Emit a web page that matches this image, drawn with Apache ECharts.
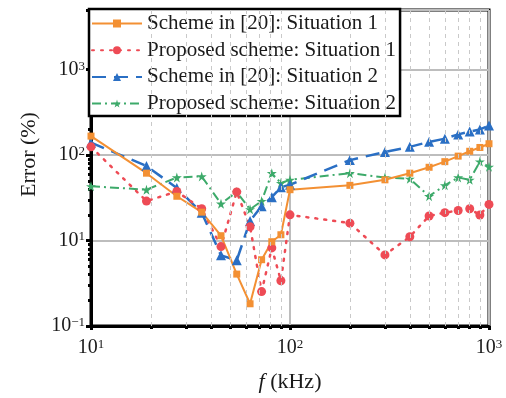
<!DOCTYPE html>
<html>
<head>
<meta charset="utf-8">
<script src="https://cdn.jsdelivr.net/npm/echarts@6/dist/echarts.min.js"></script>
<style>
html,body{margin:0;padding:0;background:#fff;}
#c{width:506px;height:398px;}
</style>
</head>
<body>
<div id="c"></div>
<script>
// ---- data ----
const freq = [10, 19, 27, 36, 45, 54, 63, 72, 81, 90, 100, 200, 300, 400, 500, 600, 700, 800, 900, 1000];
const schemeS1 = [167, 61.5, 33, 21.5, 11.4, 4.05, 1.82, 5.97, 9.7, 11.7, 39.4, 44.3, 51.4, 61.5, 72.1, 83.9, 97.4, 111, 123, 136];
const proposedS1 = [125, 29, 37.5, 23.6, 8.5, 37.1, 14.5, 2.53, 8.2, 3.39, 20, 16, 6.8, 11.1, 19.4, 21.2, 22.5, 23.6, 19.9, 26.5];
const schemeS2 = [140, 74.7, 41.2, 21.2, 6.71, 5.87, 17, 25.3, 32.2, 42.1, 45, 87.5, 109, 125, 143, 156, 175, 189, 200, 222];
const proposedS2 = [43.2, 39.4, 54.8, 56.4, 27, 37, 23.2, 29, 61.5, 47.1, 51.4, 61.5, 54.8, 52.8, 33.1, 44.3, 54.8, 51.4, 84, 73];
const seriesNames = ['Scheme in [20]: Situation 1', 'Proposed scheme: Situation 1', 'Scheme in [20]: Situation 2', 'Proposed scheme: Situation 2'];
const xTickValues = [10, 100, 1000];
const xTickExp = ['1', '2', '3'];
const yTickValues = [1, 10, 100, 1000];
const yTickExp = ['\u22121', '1', '2', '3'];
const xMinor = [20, 30, 40, 50, 60, 70, 80, 90, 200, 300, 400, 500, 600, 700, 800, 900];
const yMinor = [2,3,4,5,6,7,8,9,20,30,40,50,60,70,80,90,200,300,400,500,600,700,800,900,2000,3000,4000,5000];

const FONT = 'Liberation Serif';
const TXT = '#1a1a1a';
const STAR = 'path://M50,0 L61,35 L98,35 L68,57 L79,91 L50,70 L21,91 L32,57 L2,35 L39,35 Z';

function pairs(ys){ return freq.map((f,i)=>[f, ys[i]]); }
function labelFor(vals, exps){
  return function(v){
    for (let i=0;i<vals.length;i++){
      if (Math.abs(Math.log10(v) - Math.log10(vals[i])) < 1e-6) return '{b|10}{s|' + exps[i] + '}';
    }
    return '';
  };
}
const rich = {
  b: {fontFamily: FONT, fontSize: 20, color: TXT},
  s: {fontFamily: FONT, fontSize: 13, color: TXT, verticalAlign: 'top'}
};

const chart = echarts.init(document.getElementById('c'), null, {renderer: 'canvas'});
chart.setOption({
  animation: false,
  backgroundColor: '#fff',
  grid: {left: 91, right: 17, top: 10, bottom: 67, show: true, borderColor: '#000', borderWidth: 3, backgroundColor: 'transparent'},
  xAxis: [{
    type: 'log', logBase: 10, min: 10, max: 1000,
    name: '{i|f} (kHz)', nameLocation: 'middle', nameGap: 45,
    nameTextStyle: {fontFamily: FONT, fontSize: 22, color: TXT, rich: {i: {fontFamily: FONT, fontSize: 22, fontStyle: 'italic', color: TXT}}},
    axisLine: {show: true, lineStyle: {color: '#000', width: 3}},
    axisTick: {show: true, inside: false, length: 4, lineStyle: {color: '#000', width: 3}},
    axisLabel: {margin: 12, formatter: labelFor(xTickValues, xTickExp), rich: rich},
    splitLine: {show: true, lineStyle: {color: '#bdbdbd', width: 2}},
    minorTick: {show: false}
  }, {
    type: 'log', logBase: 10, min: 10, max: 1000, position: 'bottom',
    axisLine: {show: false},
    axisTick: {show: true, inside: false, length: 3, customValues: xMinor, lineStyle: {color: '#000', width: 3}},
    axisLabel: {show: false},
    splitLine: {show: false}
  }],
  yAxis: [{
    type: 'log', logBase: 10, min: 1, max: 5000,
    name: 'Error (%)', nameLocation: 'middle', nameGap: 51,
    nameTextStyle: {fontFamily: FONT, fontSize: 22, color: TXT, padding: [0, 0, 0, 27]},
    axisLine: {show: true, lineStyle: {color: '#000', width: 3}},
    axisTick: {show: true, inside: false, length: 5, lineStyle: {color: '#000', width: 3}},
    axisLabel: {margin: 6, formatter: labelFor(yTickValues, yTickExp), rich: rich},
    splitLine: {show: true, lineStyle: {color: '#bdbdbd', width: 2}}
  }, {
    type: 'log', logBase: 10, min: 1, max: 5000, position: 'left',
    axisLine: {show: false},
    axisTick: {show: true, inside: false, length: 3, customValues: yMinor, lineStyle: {color: '#000', width: 3}},
    axisLabel: {show: false},
    splitLine: {show: false}
  }],
  legend: {
    data: seriesNames,
    orient: 'vertical', left: 89, top: 9,
    padding: [4, 4, 2, 2],
    itemWidth: 50, itemHeight: 10, itemGap: 5.7,
    backgroundColor: '#fff', borderColor: '#000', borderWidth: 2.5,
    textStyle: {fontFamily: FONT, fontSize: 21, color: TXT}
  },
  series: [
    {
      name: 'minor-grid', type: 'line', data: [], silent: true, z: 1,
      markLine: {
        silent: true, symbol: 'none', animation: false,
        label: {show: false},
        lineStyle: {type: [4, 4], color: '#c9c9c9', width: 1},
        data: xMinor.map(v => ({xAxis: v}))
      }
    },
    {
      name: seriesNames[3], type: 'line', data: pairs(proposedS2),
      symbol: STAR, symbolSize: 10,
      itemStyle: {color: '#3daa6a'},
      lineStyle: {color: '#3daa6a', width: 2, type: [9, 4, 2, 4]}
    },
    {
      name: seriesNames[2], type: 'line', data: pairs(schemeS2),
      symbol: 'triangle', symbolSize: 10,
      itemStyle: {color: '#2a6fc4'},
      lineStyle: {color: '#2a6fc4', width: 2.5, type: [14, 8]}
    },
    {
      name: seriesNames[1], type: 'line', data: pairs(proposedS1),
      symbol: 'circle', symbolSize: 9,
      itemStyle: {color: '#ee4b55'},
      lineStyle: {color: '#ee4b55', width: 2.5, type: [2, 7], cap: 'round'}
    },
    {
      name: seriesNames[0], type: 'line', data: pairs(schemeS1),
      symbol: 'rect', symbolSize: 7,
      itemStyle: {color: '#f39033'},
      lineStyle: {color: '#f39033', width: 2}
    }
  ]
});
</script>
</body>
</html>
